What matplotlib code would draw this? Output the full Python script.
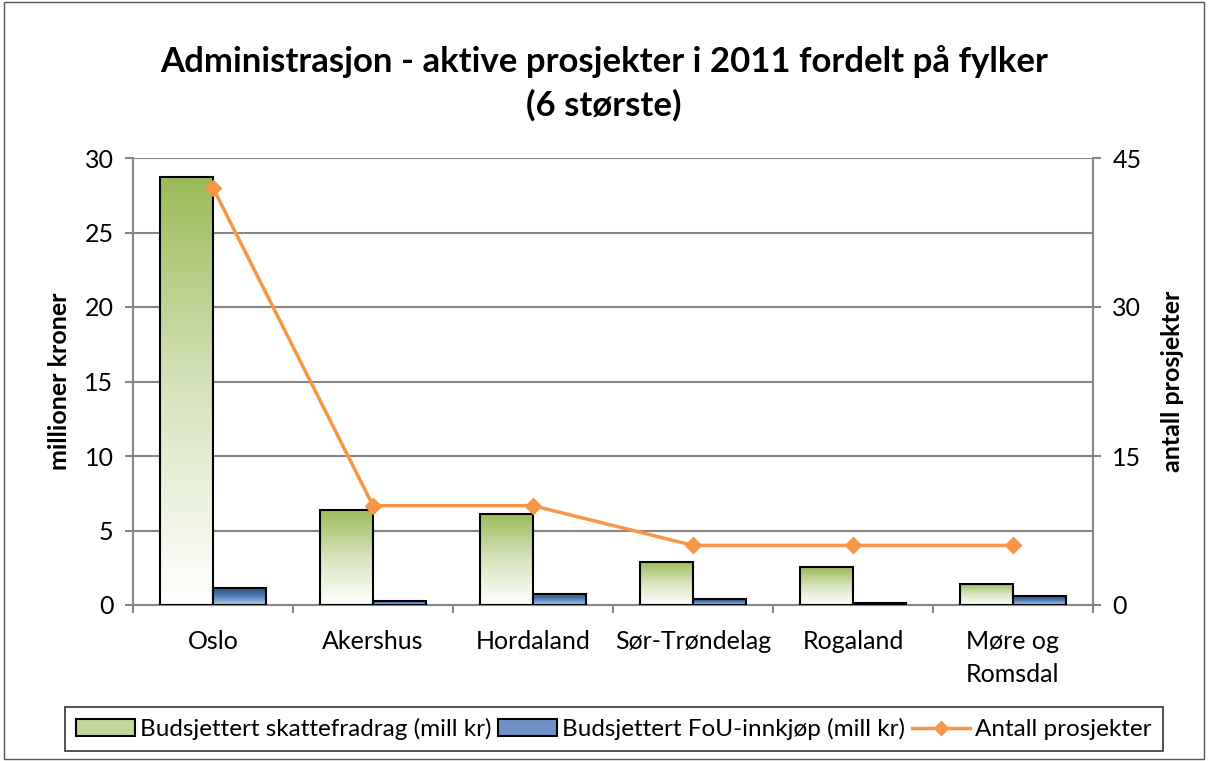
import numpy as np
import matplotlib.pyplot as plt
from matplotlib.colors import LinearSegmentedColormap
from matplotlib.lines import Line2D
from matplotlib.patches import Patch, Rectangle

# Dữ liệu
fylker = ["Oslo", "Akershus", "Hordaland", "Sør-Trøndelag", "Rogaland", "Møre og\nRomsdal"]
skattefradrag = [28.7, 6.4, 6.13, 2.9, 2.55, 1.43]
fou_innkjop = [1.14, 0.27, 0.74, 0.4, 0.15, 0.58]
antall_prosjekter = [42, 10, 10, 6, 6, 6]

plt.rcParams['font.family'] = ['Lato', 'DejaVu Sans']

green_cmap = LinearSegmentedColormap.from_list("gronn", ["#FFFFFF", "#D7E4BD", "#9BBB59"])
blue_cmap = LinearSegmentedColormap.from_list("bla", ["#B9CDE5", "#4F81BD", "#2C4D75"])

fig = plt.figure(figsize=(12.08, 7.61), dpi=100)
ax = fig.add_axes([133 / 1208, 1 - 605 / 761, 960 / 1208, 447 / 761])
ax2 = ax.twinx()

x = np.arange(len(fylker))
w = 0.33
grad = np.linspace(0, 1, 256).reshape(-1, 1)


def gradient_bars(xs, heights, cmap):
    for xi, h in zip(xs, heights):
        rect = Rectangle((xi, 0), w, h, facecolor='none', edgecolor='black', lw=1.5, zorder=3)
        ax.add_patch(rect)
        im = ax.imshow(grad, cmap=cmap, extent=[xi, xi + w, 0, h], origin='lower',
                       aspect='auto', zorder=2)
        im.set_clip_path(rect)


gradient_bars(x - w, skattefradrag, green_cmap)
gradient_bars(x, fou_innkjop, blue_cmap)

ax.set_xlim(-0.5, len(fylker) - 0.5)
ax.set_ylim(0, 30)
ax.set_yticks(range(0, 31, 5))
ax.set_xticks(x)
ax.set_xticklabels(fylker, fontsize=18, linespacing=1.5)
ax.set_xticks(np.arange(-0.5, len(fylker)), minor=True)
ax.tick_params(axis='x', which='major', length=0, pad=18)
ax.tick_params(axis='x', which='minor', length=6, color='#868686', width=1.5)
ax.tick_params(axis='y', labelsize=18, length=6, color='#868686', width=1.5, pad=8)
ax.grid(axis='y', color='#868686', lw=1.5, zorder=0)
ax.set_axisbelow(True)
ax.set_ylabel("millioner kroner", fontsize=18, fontweight='bold', labelpad=10)
for s in ['top', 'right']:
    ax.spines[s].set_visible(False)
for s in ['left', 'bottom']:
    ax.spines[s].set_color('#868686')
    ax.spines[s].set_linewidth(1.5)

ax2.plot(x, antall_prosjekter, color='#F79646', lw=2.5, marker='D', markersize=8, zorder=5)
ax2.set_ylim(0, 45)
ax2.set_yticks([0, 15, 30, 45])
ax2.tick_params(axis='y', labelsize=18, length=6, color='#868686', width=1.5, pad=8)
ax2.set_ylabel("antall prosjekter", fontsize=18, fontweight='bold', labelpad=14)
for s in ['top', 'left', 'bottom']:
    ax2.spines[s].set_visible(False)
ax2.spines['right'].set_color('#868686')
ax2.spines['right'].set_linewidth(1.5)

fig.suptitle("Administrasjon - aktive prosjekter i 2011 fordelt på fylker\n(6 største)",
             fontsize=25, fontweight='bold', y=1 - 45 / 761, va='top', linespacing=1.4)

handles = [
    Patch(facecolor='#C3D69B', edgecolor='black', lw=1.5),
    Patch(facecolor='#6F93C7', edgecolor='black', lw=1.5),
    Line2D([0], [0], color='#F79646', lw=2.5, marker='D', markersize=7),
]
labels = ["Budsjettert skattefradrag (mill kr)", "Budsjettert FoU-innkjøp (mill kr)", "Antall prosjekter"]
leg = fig.legend(handles, labels, loc='center', bbox_to_anchor=(614 / 1208, 1 - 729 / 761),
                 ncol=3, fontsize=17.5, frameon=True, fancybox=False, handlelength=2.4,
                 handletextpad=0.2, columnspacing=0.3, borderpad=0.45, borderaxespad=0)
leg.get_frame().set_edgecolor('black')
leg.get_frame().set_linewidth(1.2)

fig.patches.append(Rectangle((0.003, 0.003), 0.994, 0.994, transform=fig.transFigure,
                             fill=False, edgecolor='#555555', lw=1))

plt.savefig("out.png", dpi=100)
